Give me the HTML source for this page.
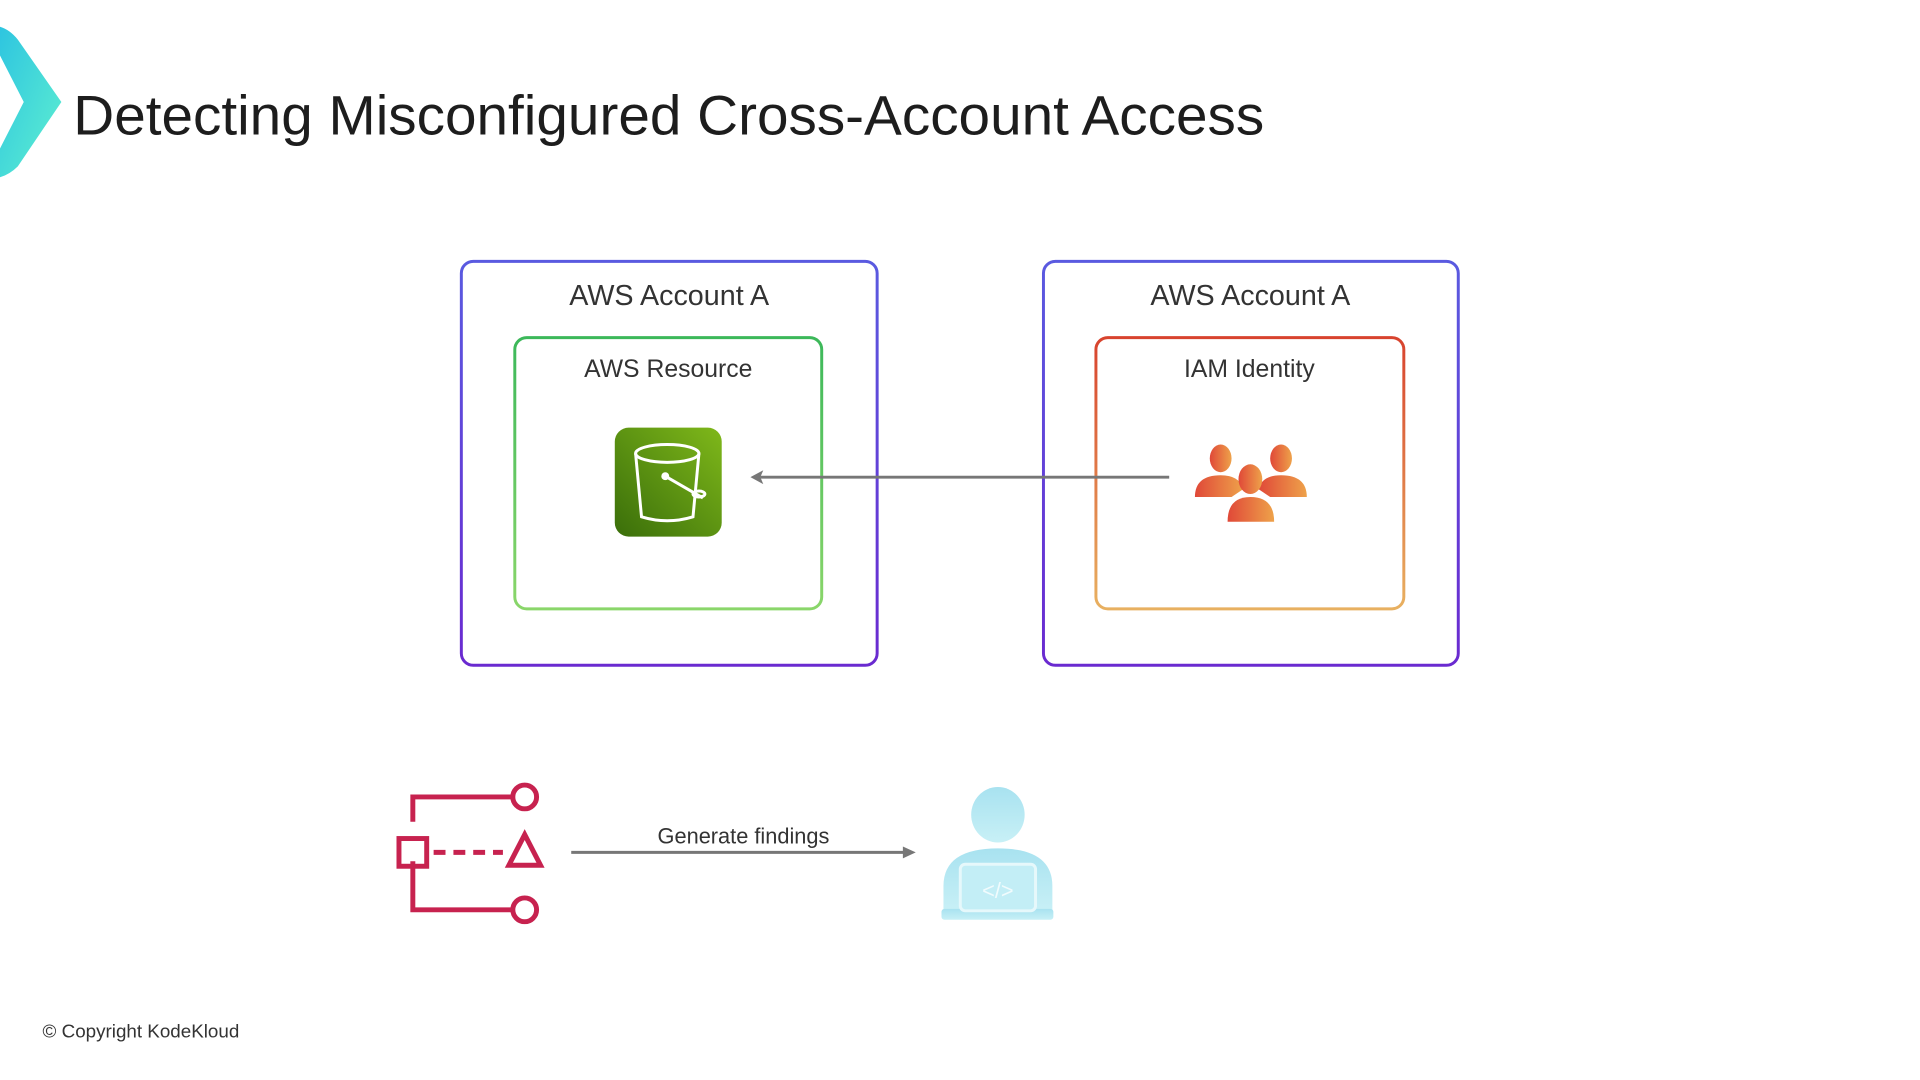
<!DOCTYPE html>
<html><head><meta charset="utf-8"><style>
html,body{margin:0;padding:0;background:#fff;width:1920px;height:1080px;overflow:hidden}
svg{display:block}
text{font-family:"Liberation Sans",sans-serif}
</style></head><body>
<svg width="1920" height="1080" viewBox="0 0 1920 1080" xmlns="http://www.w3.org/2000/svg">
<defs>
<linearGradient id="chev" x1="0" y1="0" x2="1" y2="1"><stop offset="0" stop-color="#2ec5e0"/><stop offset="1" stop-color="#5ff0d0"/></linearGradient>
<linearGradient id="purp" x1="0" y1="0" x2="0" y2="1"><stop offset="0" stop-color="#5a5ae0"/><stop offset="1" stop-color="#6a2ad0"/></linearGradient>
<linearGradient id="grn" x1="0" y1="0" x2="0" y2="1"><stop offset="0" stop-color="#3cb85a"/><stop offset="1" stop-color="#8ad66a"/></linearGradient>
<linearGradient id="org" x1="0" y1="0" x2="0" y2="1"><stop offset="0" stop-color="#d8432e"/><stop offset="1" stop-color="#e8b060"/></linearGradient>
<linearGradient id="bucket" x1="1" y1="0" x2="0" y2="1"><stop offset="0" stop-color="#7fb81a"/><stop offset="1" stop-color="#3a6e0a"/></linearGradient>
<linearGradient id="ppl" x1="0" y1="0" x2="1" y2="0"><stop offset="0" stop-color="#e04838"/><stop offset="1" stop-color="#eea24a"/></linearGradient>
<linearGradient id="dev" x1="0" y1="0" x2="0" y2="1"><stop offset="0" stop-color="#a8e2f0"/><stop offset="1" stop-color="#c8f0f6"/></linearGradient>
</defs>
<g transform="scale(0.99)">
<path d="M0 27 Q10 30 18 40 L62 103 L18 168 Q10 176 0 179 L0 150 L24 103 L0 56 Z" fill="url(#chev)"/>
<text x="74" y="136" font-size="56" fill="#1d1d1d" textLength="1203" lengthAdjust="spacingAndGlyphs">Detecting Misconfigured Cross-Account Access</text>

<rect x="466" y="264" width="420" height="408" rx="12" fill="none" stroke="url(#purp)" stroke-width="3"/>
<rect x="1054" y="264" width="419" height="408" rx="12" fill="none" stroke="url(#purp)" stroke-width="3"/>
<text x="676" y="308" font-size="29" fill="#333" text-anchor="middle">AWS Account A</text>
<text x="1263" y="308" font-size="29" fill="#333" text-anchor="middle">AWS Account A</text>

<rect x="520" y="341" width="310" height="274" rx="12" fill="none" stroke="url(#grn)" stroke-width="3"/>
<rect x="1107" y="341" width="311" height="274" rx="12" fill="none" stroke="url(#org)" stroke-width="3"/>
<text x="675" y="381" font-size="25" fill="#333" text-anchor="middle">AWS Resource</text>
<text x="1262" y="381" font-size="25" fill="#333" text-anchor="middle">IAM Identity</text>

<rect x="621" y="432" width="108" height="110" rx="14" fill="url(#bucket)"/>
<g fill="none" stroke="#fff" stroke-width="3">
<ellipse cx="674" cy="458" rx="32" ry="9"/>
<path d="M642 458 L648 522 Q674 530 700 522 L706 458"/>
<path d="M672 481 L710 503"/>
<ellipse cx="706" cy="499" rx="6" ry="3"/>
</g>
<circle cx="672" cy="481" r="4" fill="#fff"/>

<line x1="1181" y1="482" x2="768" y2="482" stroke="#777" stroke-width="3"/>
<polygon points="758,482 771,475 768,482 771,489" fill="#777"/>

<g fill="url(#ppl)">
<ellipse cx="1233" cy="463" rx="11" ry="14"/>
<ellipse cx="1294" cy="463" rx="11" ry="14"/>
<path d="M1207 502 Q1207 480 1233 480 Q1252 480 1256 494 L1244 502 Z"/>
<path d="M1320 502 Q1320 480 1294 480 Q1275 480 1271 494 L1283 502 Z"/>
<ellipse cx="1263" cy="484" rx="12" ry="15"/>
<path d="M1240 527 Q1240 502 1263 502 Q1287 502 1287 527 Z"/>
</g>

<g fill="none" stroke="#c7224f" stroke-width="5">
<path d="M417 830 V805 H518"/>
<circle cx="530" cy="805" r="12"/>
<path d="M417 870 V919 H518"/>
<circle cx="530" cy="919" r="12"/>
<rect x="403" y="847" width="28" height="28"/>
<path d="M438 861 H508" stroke-dasharray="12,8"/>
<path d="M530 843 L546 874 H514 Z"/>
</g>

<line x1="577" y1="861" x2="914" y2="861" stroke="#777" stroke-width="3"/>
<polygon points="925,861 912,855 912,867" fill="#777"/>
<text x="751" y="852" font-size="22" fill="#333" text-anchor="middle">Generate findings</text>

<g fill="url(#dev)">
<ellipse cx="1008" cy="823" rx="27" ry="28"/>
<path d="M953 920 L953 895 Q953 857 1008 857 Q1063 857 1063 895 L1063 920 Z"/>
<rect x="951" y="918" width="113" height="11" rx="3"/>
</g>
<rect x="970" y="873" width="76" height="47" rx="5" fill="#c3eef6" stroke="#e6f8fb" stroke-width="3"/>
<text x="1008" y="907" font-size="22" fill="#f0fbfd" text-anchor="middle">&lt;/&gt;</text>

<text x="43" y="1048" font-size="19" fill="#333">© Copyright KodeKloud</text>
</g>
</svg>
</body></html>
